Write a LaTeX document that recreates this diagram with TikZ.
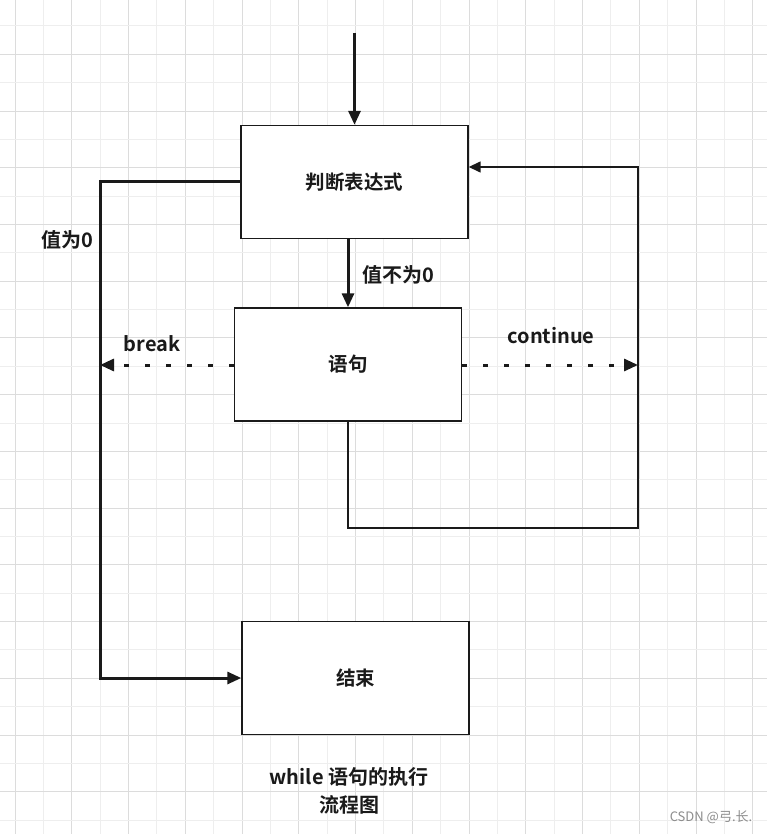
\documentclass[tikz,border=0pt]{standalone}
\usepackage{fontspec}
\setmainfont{Noto Sans CJK SC}[BoldFont={Noto Sans CJK SC Bold}]
\usetikzlibrary{arrows.meta}
\definecolor{gridminor}{RGB}{238,238,238}
\definecolor{gridmajor}{RGB}{220,220,220}
\definecolor{inkdark}{RGB}{26,26,26}
\definecolor{markgray}{RGB}{140,140,140}
\tikzset{
  box/.style={draw=inkdark, line width=1.4pt, fill=white, minimum width=227pt, minimum height=113pt, inner sep=0pt, font=\fontsize{19.5}{23}\selectfont\bfseries, text=inkdark},
  flow/.style={draw=inkdark, line width=3pt, -{Triangle[length=14pt,width=12pt]}},
  dotflow/.style={flow, dash pattern=on 5pt off 16pt},
  backflow/.style={draw=inkdark, line width=1.5pt, -{Triangle[length=12pt,width=11pt]}},
  lbl/.style={font=\fontsize{20}{28}\selectfont\bfseries, text=inkdark},
}
\begin{document}
\begin{tikzpicture}[x=1pt, y=-1pt]
\useasboundingbox (0,0) rectangle (767,834);
% Background grid
\fill[white] (0,0) rectangle (767,834);
\foreach \i in {0,...,26} {
  \pgfmathsetmacro{\gx}{15+28.38*\i}
  \ifodd\i \draw[gridminor, line width=1pt] (\gx,0) -- (\gx,834);
  \else \draw[gridmajor, line width=1pt] (\gx,0) -- (\gx,834); \fi
}
\foreach \j in {0,...,28} {
  \pgfmathsetmacro{\gy}{26+28.36*\j}
  \ifodd\j \draw[gridmajor, line width=1pt] (0,\gy) -- (767,\gy);
  \else \draw[gridminor, line width=1pt] (0,\gy) -- (767,\gy); \fi
}

% Boxes
\node[box] (expr) at (354.5,182) {判断表达式};
\node[box] (stmt) at (348,364.5) {语句};
\node[box] (stop) at (355.5,678) {结束};

% Helper points
\coordinate (entry) at (354.5,33);
\coordinate (lefttop) at (100,182);
\coordinate (brk) at (100,365);
\coordinate (cnt) at (638,365);
\coordinate (loopbot) at (638,528);
\coordinate (looptop) at (638,167);

% Main flow
\draw[flow] (entry) -- (expr.north);
\draw[flow] (stmt.north |- expr.south) -- (stmt.north);
\draw[flow] (expr.west) -- (lefttop) |- (stop.west);

% break / continue
\draw[dotflow] (stmt.west |- brk) -- (brk);
\draw[dotflow] (stmt.east |- cnt) -- (cnt);

% Loop back to the test
\draw[backflow] (stmt.south) |- (loopbot) -- (looptop) -- (expr.east |- looptop);

% Labels
\node[lbl] (zero) at (67,240) {值为0};
\node[lbl] (nonzero) at (398,275) {值不为0};
\node[lbl] (brklbl) at (152,344) {break};
\node[lbl] (cntlbl) at (551,336) {continue};
\node[lbl, align=center] (caption) at (349,791) {while 语句的执行\\流程图};
\node[font=\fontsize{13}{15}\selectfont, text=markgray] (mark) at (711,817) {CSDN @弓.长.};
\end{tikzpicture}
\end{document}
